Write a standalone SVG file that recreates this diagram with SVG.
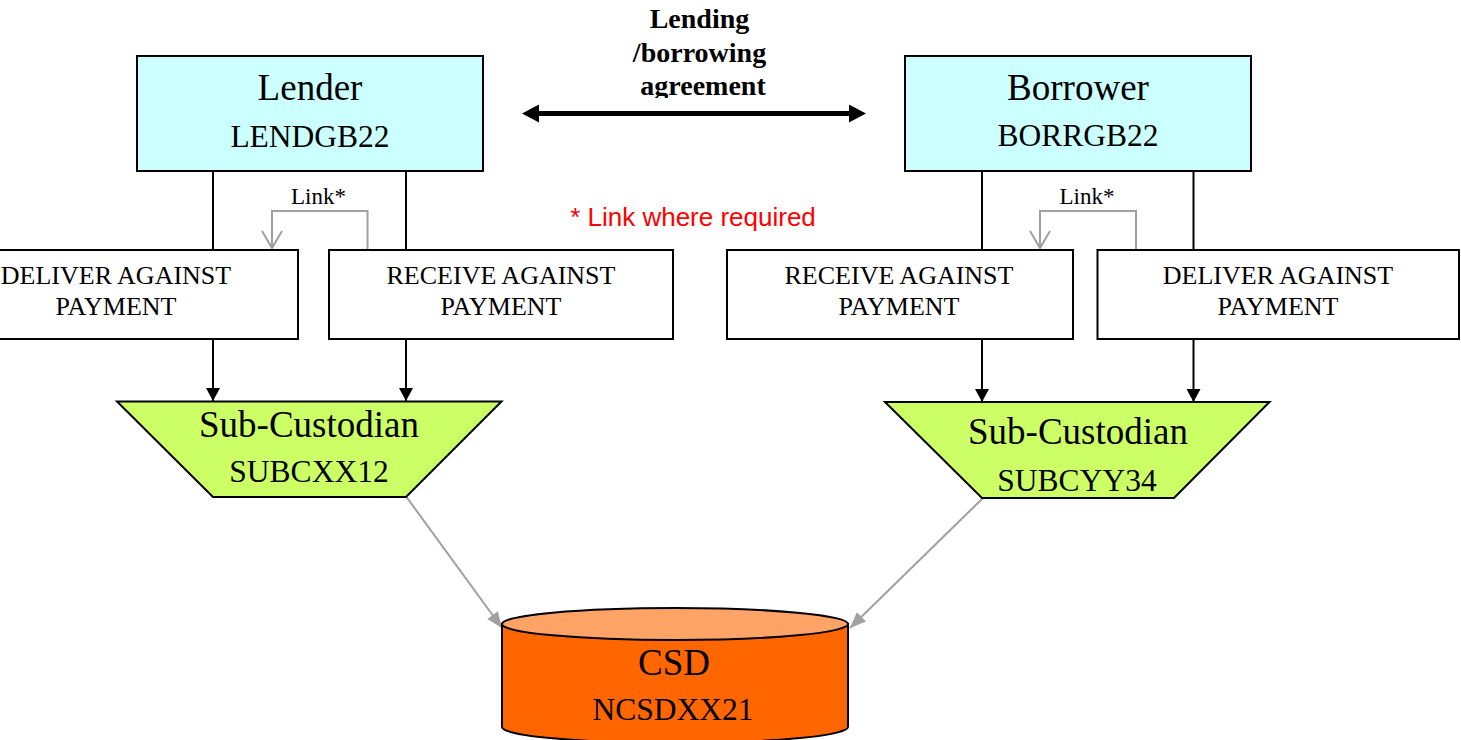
<svg xmlns="http://www.w3.org/2000/svg" width="1461" height="740" viewBox="0 0 1461 740">
  <style>
    .serif { font-family: "Liberation Serif", "Times New Roman", serif; fill: #000; }
    .party { fill: #ccffff; stroke: #000; stroke-width: 2; }
    .instr { fill: #fff; stroke: #000; stroke-width: 2; }
    .custodian { fill: #ccff66; stroke: #000; stroke-width: 2; }
    .big { font-size: 37px; }
    .code { font-size: 31.5px; }
    .small { font-size: 26px; }
    .conn { stroke: #000; stroke-width: 2; fill: none; }
    .link { stroke: #a0a0a0; stroke-width: 2; fill: none; }
  </style>
  <defs>
    <marker id="arrowBlack" markerUnits="userSpaceOnUse" markerWidth="14" markerHeight="14" refX="13" refY="7" orient="auto" overflow="visible">
      <path d="M0,0 L13,7 L0,14 Z" fill="#000"/>
    </marker>
    <marker id="arrowGray" markerUnits="userSpaceOnUse" markerWidth="17" markerHeight="13" refX="16" refY="6.5" orient="auto" overflow="visible">
      <path d="M0,0 L16,6.5 L0,13 Z" fill="#a0a0a0"/>
    </marker>
    <marker id="arrowOpen" markerUnits="userSpaceOnUse" markerWidth="18" markerHeight="22" refX="17" refY="10" orient="auto" overflow="visible">
      <path d="M0,0 L17,10 L0,20" fill="none" stroke="#a0a0a0" stroke-width="2"/>
    </marker>
    <clipPath id="titleClip">
      <rect x="560" y="0" width="300" height="98"/>
    </clipPath>
  </defs>

  <!-- agreement label and double arrow -->
  <g id="agreement">
    <g clip-path="url(#titleClip)">
      <text class="serif" font-size="28" font-weight="bold" text-anchor="middle">
        <tspan x="703" y="28">Lending</tspan>
        <tspan x="703" y="62">/borrowing</tspan>
        <tspan x="703" y="95">agreement</tspan>
      </text>
    </g>
    <line x1="536" y1="113.5" x2="852" y2="113.5" stroke="#000" stroke-width="5"/>
    <polygon points="522,113.5 539,104.5 539,122.5" fill="#000"/>
    <polygon points="866,113.5 849,104.5 849,122.5" fill="#000"/>
  </g>

  <!-- footnote -->
  <text id="footnote" x="693" y="226" text-anchor="middle" font-family="'Liberation Sans', Arial, sans-serif" font-size="26" fill="#ff0000">* Link where required</text>

  <!-- connectors -->
  <g id="connectors">
    <line class="conn" x1="213" y1="171" x2="213" y2="250"/>
    <line class="conn" x1="406" y1="171" x2="406" y2="250"/>
    <line class="conn" x1="982" y1="171" x2="982" y2="250"/>
    <line class="conn" x1="1193.5" y1="171" x2="1193.5" y2="250"/>

    <line class="conn" x1="213" y1="339" x2="213" y2="401" marker-end="url(#arrowBlack)"/>
    <line class="conn" x1="406" y1="339" x2="406" y2="401" marker-end="url(#arrowBlack)"/>
    <line class="conn" x1="982" y1="339" x2="982" y2="402" marker-end="url(#arrowBlack)"/>
    <line class="conn" x1="1193.5" y1="339" x2="1193.5" y2="402" marker-end="url(#arrowBlack)"/>

    <polyline class="link" points="367.5,250 367.5,211 272,211 272,248" marker-end="url(#arrowOpen)"/>
    <polyline class="link" points="1136,250 1136,211 1040,211 1040,248" marker-end="url(#arrowOpen)"/>
    <text class="serif" x="318.5" y="204" font-size="23" text-anchor="middle">Link*</text>
    <text class="serif" x="1087" y="204" font-size="23" text-anchor="middle">Link*</text>

    <line class="link" x1="406.5" y1="497" x2="502" y2="628" marker-end="url(#arrowGray)"/>
    <line class="link" x1="983" y1="498" x2="850" y2="628" marker-end="url(#arrowGray)"/>
  </g>

  <!-- lender -->
  <g id="lender">
    <rect class="party" x="137" y="56" width="346" height="115"/>
    <text class="serif big" x="310" y="100" text-anchor="middle">Lender</text>
    <text class="serif code" x="310" y="147" text-anchor="middle">LENDGB22</text>
  </g>

  <!-- borrower -->
  <g id="borrower">
    <rect class="party" x="905" y="56" width="346" height="115"/>
    <text class="serif big" x="1078" y="100" text-anchor="middle">Borrower</text>
    <text class="serif code" x="1078" y="146" text-anchor="middle">BORRGB22</text>
  </g>

  <!-- lender instructions -->
  <g id="lender-dvp">
    <rect class="instr" x="-66" y="250" width="364" height="89"/>
    <text class="serif small" text-anchor="middle"><tspan x="116" y="284">DELIVER AGAINST</tspan><tspan x="116" y="315">PAYMENT</tspan></text>
  </g>
  <g id="lender-rvp">
    <rect class="instr" x="329" y="250" width="344" height="89"/>
    <text class="serif small" text-anchor="middle"><tspan x="501" y="284">RECEIVE AGAINST</tspan><tspan x="501" y="315">PAYMENT</tspan></text>
  </g>

  <!-- borrower instructions -->
  <g id="borrower-rvp">
    <rect class="instr" x="727" y="250" width="346" height="89"/>
    <text class="serif small" text-anchor="middle"><tspan x="899" y="284">RECEIVE AGAINST</tspan><tspan x="899" y="315">PAYMENT</tspan></text>
  </g>
  <g id="borrower-dvp">
    <rect class="instr" x="1097.5" y="250" width="361.5" height="89"/>
    <text class="serif small" text-anchor="middle"><tspan x="1278" y="284">DELIVER AGAINST</tspan><tspan x="1278" y="315">PAYMENT</tspan></text>
  </g>

  <!-- sub-custodians -->
  <g id="subcustodian-x">
    <polygon class="custodian" points="117,401.5 501.5,401.5 406,497 213,497"/>
    <text class="serif big" x="309" y="437" text-anchor="middle">Sub-Custodian</text>
    <text class="serif code" x="309" y="482" text-anchor="middle">SUBCXX12</text>
  </g>
  <g id="subcustodian-y">
    <polygon class="custodian" points="885,402 1269.5,402 1174,498 982,498"/>
    <text class="serif big" x="1078" y="444" text-anchor="middle">Sub-Custodian</text>
    <text class="serif code" x="1077" y="491" text-anchor="middle">SUBCYY34</text>
  </g>

  <!-- central securities depository -->
  <g id="csd">
    <path d="M502,624 V727 A173,16 0 0 0 848,727 V624 Z" fill="#ff6600" stroke="#000" stroke-width="2"/>
    <ellipse cx="675" cy="624" rx="173" ry="16" fill="#ffa366" stroke="#000" stroke-width="2"/>
    <text class="serif big" x="674" y="675" text-anchor="middle">CSD</text>
    <text class="serif code" x="673" y="720" text-anchor="middle">NCSDXX21</text>
  </g>
</svg>
